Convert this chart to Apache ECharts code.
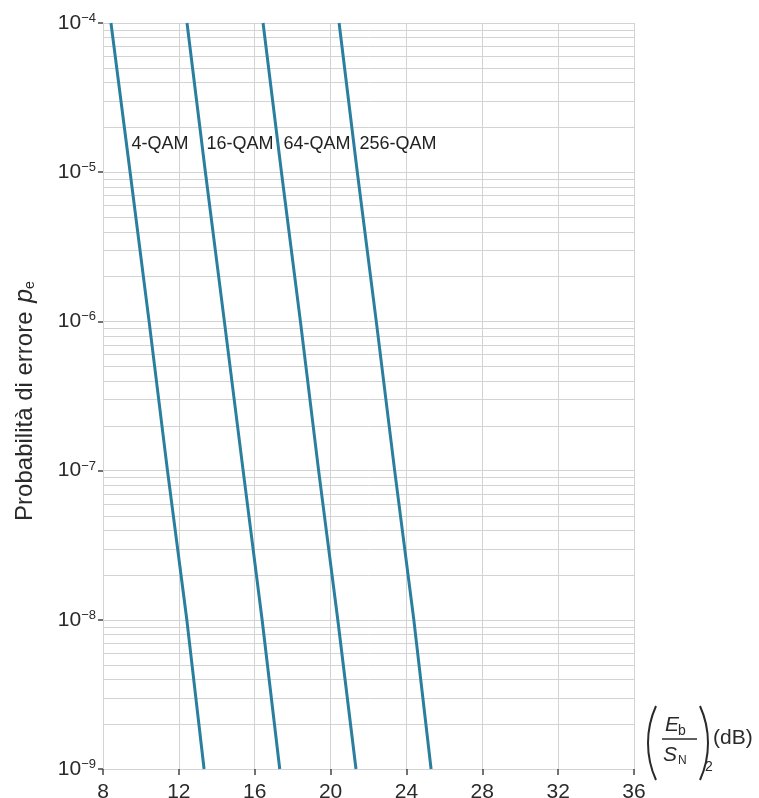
<!DOCTYPE html>
<html><head><meta charset="utf-8">
<script src="https://cdn.jsdelivr.net/npm/echarts@6/dist/echarts.min.js"></script>
<style>html,body{margin:0;padding:0;background:#fff}#c{width:759px;height:798px}</style>
</head><body><div id="c"></div>
<script>
// probabilities (y) at which curve points were read
var probs = [1e-4, 1e-5, 1e-6, 1e-7, 1e-8, 1e-9];
// Eb/SN (dB) read for each curve at those probabilities
var qam4   = [8.42, 9.43, 10.43, 11.40, 12.42, 13.33];
var qam16  = [12.43, 13.40, 14.40, 15.39, 16.39, 17.32];
var qam64  = [16.44, 17.41, 18.41, 19.37, 20.38, 21.34];
var qam256 = [20.45, 21.41, 22.41, 23.38, 24.39, 25.30];
var curveNames = ['4-QAM', '16-QAM', '64-QAM', '256-QAM'];
// label anchor positions (dB, probability)
var labelX = [9.48, 13.43, 17.49, 21.5];
var labelY = [1.55e-5, 1.55e-5, 1.55e-5, 1.55e-5];
var xTicks = [8, 12, 16, 20, 24, 28, 32, 36];

var FONT = '"Liberation Sans", Arial, sans-serif';
var LINE = '#2b7f9e';
var GRID = '#d3d3d3';
var TXT = '#2a2a2a';

function pts(xs){ return xs.map(function(x,i){ return [x, probs[i]]; }); }
var minor = [];
for (var e = -9; e <= -5; e++) for (var k = 2; k <= 9; k++) minor.push([k * Math.pow(10, e)]);

var chart = echarts.init(document.getElementById('c'));
var series = [];
// minor (logarithmic) horizontal grid lines
series.push({type:'custom', silent:true, z:1, data:minor,
  renderItem:function(params, api){
    var v = api.value(0);
    var a = api.coord([8, v]), b = api.coord([36, v]);
    return {type:'line', shape:{x1:a[0], y1:Math.round(a[1])+0.5, x2:b[0], y2:Math.round(b[1])+0.5},
      style:{stroke:GRID, lineWidth:1}};
  }});
[qam4, qam16, qam64, qam256].forEach(function(d, i){
  series.push({type:'line', name:curveNames[i], data:pts(d), showSymbol:false, symbol:'none',
    lineStyle:{color:LINE, width:3}, silent:true, z:5});
});
series.push({type:'scatter', symbolSize:1, itemStyle:{color:'rgba(0,0,0,0)', opacity:1}, silent:true,
  data: labelX.map(function(x,i){ return {value:[x, labelY[i]], name:curveNames[i]}; }),
  label:{show:true, position:'right', distance:0, formatter:'{b}', color:'#222', opacity:1, fontSize:18, fontFamily:FONT}, z:6});

chart.setOption({
  animation:false,
  grid:{left:103, right:125, top:23, bottom:29, containLabel:false, outerBoundsMode:'none'},
  xAxis:{type:'value', min:8, max:36, interval:4,
    axisLine:{show:true, lineStyle:{color:GRID}},
    axisTick:{show:true, length:6, lineStyle:{color:'#444', width:1.5}},
    axisLabel:{color:TXT, fontSize:21, fontFamily:FONT, margin:13,
      formatter:function(v){ return xTicks.indexOf(v) >= 0 ? String(v) : ''; }},
    splitLine:{show:true, lineStyle:{color:GRID, width:1}}},
  yAxis:{type:'log', logBase:10, min:1e-9, max:1e-4,
    axisLine:{show:true, lineStyle:{color:GRID}},
    axisTick:{show:true, length:5, lineStyle:{color:'#444', width:1.5}},
    splitLine:{show:true, lineStyle:{color:GRID, width:1}},
    minorTick:{show:false}, minorSplitLine:{show:false},
    axisLabel:{margin:7, fontFamily:FONT,
      formatter:function(v){ var p = Math.round(Math.log10(v)); return '{b|10}{s|\u2212' + Math.abs(p) + '}'; },
      rich:{b:{fontSize:21, lineHeight:22, color:TXT, fontFamily:FONT},
            s:{fontSize:13, color:TXT, fontFamily:FONT, verticalAlign:'top'}}},
    name:'{n|Probabilità di errore }{p|p}{e|e}', nameLocation:'middle', nameRotate:90, nameGap:65,
    nameTextStyle:{padding:[0,10,0,0], rich:{
      n:{fontSize:24, color:TXT, fontFamily:FONT},
      p:{fontSize:25, color:TXT, fontFamily:FONT, fontStyle:'italic', padding:[0,0,0,2]},
      e:{fontSize:14, color:TXT, fontFamily:FONT, padding:[10,0,0,0]}}}},
  graphic:[
    {type:'arc', shape:{cx:737.6, cy:743, r:89.6, startAngle:Math.PI-0.426, endAngle:Math.PI+0.426},
      style:{stroke:TXT, lineWidth:2, fill:null}},
    {type:'arc', shape:{cx:618.4, cy:743, r:89.6, startAngle:-0.426, endAngle:0.426},
      style:{stroke:TXT, lineWidth:2, fill:null}},
    {type:'text', x:665, y:725, style:{text:'E', font:'italic 21px ' + FONT, fill:TXT, verticalAlign:'middle'}},
    {type:'text', x:678, y:731, style:{text:'b', font:'14px ' + FONT, fill:TXT, verticalAlign:'middle'}},
    {type:'line', shape:{x1:662, y1:739, x2:697, y2:739}, style:{stroke:TXT, lineWidth:1.3}},
    {type:'text', x:663, y:755, style:{text:'S', font:'italic 21px ' + FONT, fill:TXT, verticalAlign:'middle'}},
    {type:'text', x:678, y:761, style:{text:'N', font:'12px ' + FONT, fill:TXT, verticalAlign:'middle'}},
    {type:'text', x:705, y:767, style:{text:'2', font:'14px ' + FONT, fill:TXT, verticalAlign:'middle'}},
    {type:'text', x:713, y:738, style:{text:'(dB)', font:'21px ' + FONT, fill:TXT, verticalAlign:'middle'}}
  ],
  series: series
});
</script></body></html>
